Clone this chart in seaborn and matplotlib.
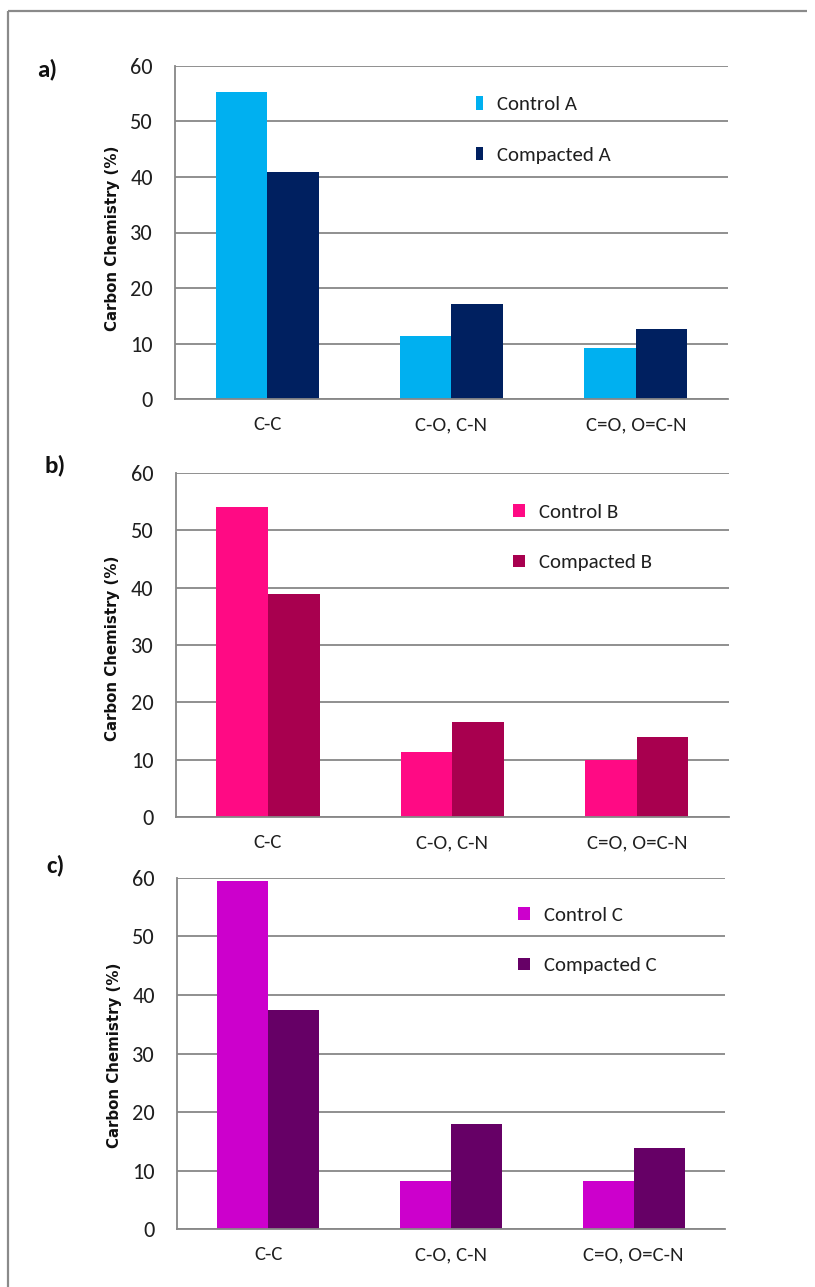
import matplotlib
matplotlib.use("Agg")
import matplotlib.pyplot as plt
import seaborn as sns
import pandas as pd
from matplotlib.lines import Line2D
from matplotlib import font_manager

# Carbon bonding categories and percentages for each sample pair
categories = ["C-C", "C-O, C-N", "C=O, O=C-N"]
control_a = [55.3, 11.3, 9.2]
compacted_a = [40.9, 17.1, 12.6]
control_b = [54.1, 11.3, 10.0]
compacted_b = [38.8, 16.6, 13.9]
control_c = [59.4, 8.3, 8.3]
compacted_c = [37.4, 17.9, 13.9]
y_ticks = [0, 10, 20, 30, 40, 50, 60]

panels = [
    ("a)", "Control A", control_a, "Compacted A", compacted_a, ["#00B0F0", "#002060"]),
    ("b)", "Control B", control_b, "Compacted B", compacted_b, ["#FF0A84", "#A8004F"]),
    ("c)", "Control C", control_c, "Compacted C", compacted_c, ["#CC00CC", "#660066"]),
]

sns.set_theme(style="white")
available = {f.name for f in font_manager.fontManager.ttflist}
text_font = next((f for f in ["Carlito", "Lato", "DejaVu Sans"] if f in available), "DejaVu Sans")
plt.rcParams["font.family"] = [text_font, "DejaVu Sans"]

GRID = "#878787"
INK = "#1f1f1f"
W, H = 815, 1287

fig = plt.figure(figsize=(W / 100, H / 100), dpi=100)
fig.patch.set_facecolor("white")
fig.patch.set_edgecolor("white")
fig.patch.set_linewidth(0)

# axes boxes in pixels: left, right, top (y=60), bottom (y=0)
boxes = [
    (175, 728, 65.7, 399.3),
    (175.7, 729, 472.7, 817.3),
    (177, 725, 877.7, 1229.3),
]
legend_anchor = [(0.544, 0.908), (0.610, 0.910), (0.622, 0.918)]
legend_handle = [(0.36, 0.6), (0.55, 0.55), (0.57, 0.57)]
ylabel_y = [0.482, 0.491, 0.496]
panel_label_pos = [(37, 69), (44, 465), (46, 865)]

for (tag, n1, v1, n2, v2, colors), (l, r, t, b), anchor, (hl, hh), ly, (px, py) in zip(
        panels, boxes, legend_anchor, legend_handle, ylabel_y, panel_label_pos):
    ax = fig.add_axes([l / W, 1 - b / H, (r - l) / W, (b - t) / H])
    df = pd.DataFrame({
        "bond": categories * 2,
        "value": v1 + v2,
        "sample": [n1] * 3 + [n2] * 3,
    })
    sns.barplot(data=df, x="bond", y="value", hue="sample", palette=colors,
                width=0.56, gap=0, saturation=1, errorbar=None, linewidth=0,
                ax=ax)
    ax.set_xlim(-0.5, 2.5)
    ax.set_ylim(0, 60)
    ax.set_yticks(y_ticks)
    ax.set_axisbelow(True)
    ax.yaxis.grid(True, color=GRID, lw=1.3)
    ax.xaxis.grid(False)
    for side in ["top", "right"]:
        ax.spines[side].set_visible(False)
    for side in ["left", "bottom"]:
        ax.spines[side].set_color(GRID)
        ax.spines[side].set_linewidth(1.3)

    ax.tick_params(axis="y", which="major", length=6, width=1.3, color=GRID,
                   direction="out", pad=10, labelsize=16, labelcolor=INK)
    ax.tick_params(axis="x", which="major", length=0, pad=12, labelsize=15,
                   labelcolor=INK)
    ax.set_xticks([-0.5, 0.5, 1.5, 2.5], minor=True)
    ax.tick_params(axis="x", which="minor", length=6, width=1.3, color=GRID,
                   direction="out")
    ax.set_xlabel("")
    ax.set_ylabel("Carbon Chemistry (%)", fontsize=10.8, fontweight="bold",
                  family="DejaVu Sans", color="#111111")
    ax.yaxis.set_label_coords(-0.10, ly)

    handles, labels = ax.get_legend_handles_labels()
    ax.legend(handles, labels, loc="upper left", bbox_to_anchor=anchor,
              frameon=False, handlelength=hl, handleheight=hh,
              handletextpad=0.68, labelspacing=1.62, borderpad=0,
              borderaxespad=0, fontsize=15, labelcolor=INK)

    fig.text(px / W, 1 - py / H, tag, fontsize=18, fontweight="bold",
             ha="left", va="center", color="#111111")

# outer frame: a left edge and a top edge
x0, y0 = 8 / W, 1 - 11 / H
frame_style = dict(color="#8a8a8a", lw=1.6, transform=fig.transFigure,
                   solid_capstyle="butt")
fig.add_artist(Line2D([x0, x0], [0.0, y0], **frame_style))
fig.add_artist(Line2D([x0, 0.99], [y0, y0], **frame_style))

fig.savefig("out.png", dpi=100, facecolor="white", edgecolor="white")
